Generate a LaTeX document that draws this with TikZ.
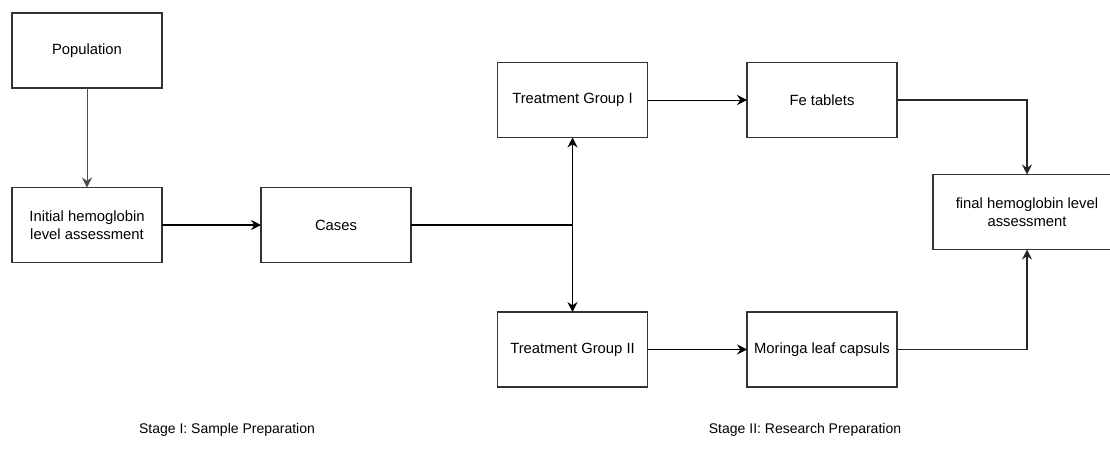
\documentclass[tikz,border=0pt]{standalone}
\usepackage{fontspec}
\setmainfont{Liberation Sans}
\usetikzlibrary{arrows.meta,calc}
\definecolor{boxline}{HTML}{333333}
\begin{document}
\begin{tikzpicture}[x=0.75pt,y=-0.75pt,
  box/.style={draw=boxline,line width=0.9pt,rectangle,minimum width=112.5pt,minimum height=56.25pt,
    inner sep=0pt,outer sep=0pt,align=center,font=\fontsize{11.1}{13.5}\selectfont},
  lbl/.style={inner sep=0pt,font=\fontsize{10.5}{12.5}\selectfont},
  tip/.tip={Stealth[length=7.5pt,width=7.5pt,inset=2.5pt]},
  conn/.style={draw=black,line width=0.75pt,-tip},
  thick conn/.style={conn,line width=1.1pt}]
\useasboundingbox (0,0) rectangle (1110,454);
\node[box] (pop) at (87,50.5) {Population};
\node[box] (init) at (87,225) {Initial hemoglobin\\level assessment};
\node[box] (cases) at (336,225) {Cases};
\node[box] (tg1) at (572.5,100) {Treatment Group I};
\node[box] (tg2) at (572.5,349.5) {Treatment Group II};
\node[box] (fe) at (822,100) {Fe tablets};
\node[box] (mor) at (822,349.5) {Moringa leaf capsuls};
\node[box,minimum width=141pt] (final) at (1027,212) {final hemoglobin level\\assessment};
\node[lbl] (s1) at (227,430) {Stage I: Sample Preparation};
\node[lbl] (s2) at (805,430) {Stage II: Research Preparation};
\coordinate (j) at (tg1.south |- cases.east);
\draw[conn,draw=black!70] (pop.south) -- (init.north);
\draw[thick conn] (init.east) -- (cases.west);
\draw[line width=1.1pt] (cases.east) -- (j);
\draw[thick conn,tip-tip] (tg1.south) -- (tg2.north);
\draw[conn] (tg1.east) -- (fe.west);
\draw[conn] (tg2.east) -- (mor.west);
\draw[conn,draw=black!85,line width=0.9pt] (fe.east) -| (final.north);
\draw[conn,draw=black!85,line width=0.9pt] (mor.east) -| (final.south);
\end{tikzpicture}
\end{document}
